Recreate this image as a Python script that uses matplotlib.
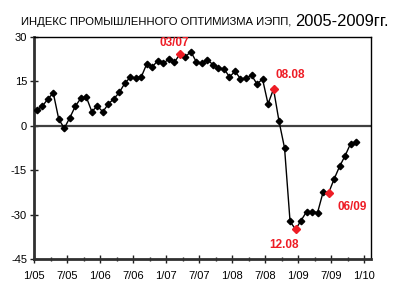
import numpy as np
import matplotlib
matplotlib.use("Agg")
import matplotlib.pyplot as plt
from matplotlib.ticker import MultipleLocator

plt.rcParams['axes.unicode_minus'] = False

# monthly index values, 1/05 .. 11/09
values = [5.3, 6.6, 9.0, 11.1, 2.2, -0.8, 2.7, 6.6, 9.3, 9.7, 4.8, 6.7,
          4.7, 7.4, 9.1, 11.3, 14.4, 16.4, 16.2, 16.6, 21.0, 20.0, 22.0, 21.1,
          22.6, 21.5, 24.2, 23.4, 25.0, 21.5, 21.1, 22.2, 20.7, 19.4, 19.3, 16.5,
          18.4, 15.9, 16.0, 17.1, 14.1, 15.8, 7.4, 12.4, 1.5, -7.5, -32.3, -35.0,
          -32.0, -29.0, -29.0, -29.3, -22.4, -22.7, -18.0, -13.7, -10.1, -6.0, -5.6]
tick_labels = ['1/05', '7/05', '1/06', '7/06', '1/07', '7/07', '1/08', '7/08', '1/09', '7/09', '1/10']
marked = {26: '03/07', 43: '08.08', 47: '12.08', 53: '06/09'}
label_offsets = {26: (-4, 8), 43: (12, 10), 47: (-8, -11), 53: (17, -10)}

red = '#ee1c25'
fnt = 'Liberation Sans'

fig = plt.figure(figsize=(4.0, 3.06), dpi=100)
ax = fig.add_axes([0.085, 0.1536, 0.8425, 0.7255])

x = np.arange(len(values)) + 0.5
ax.plot(x, values, color='black', lw=1.0, marker='D', ms=3.3, mfc='black', mec='black', zorder=3)
for i, txt in marked.items():
    ax.plot(x[i], values[i], marker='D', ms=4.5, color=red, zorder=4, ls='none')
    dx, dy = label_offsets[i]
    ax.annotate(txt, (x[i], values[i]), xytext=(dx, dy), textcoords='offset points',
                ha='center', va='center', color=red, fontsize=8.5, fontweight='bold',
                family=fnt)

ax.axhline(0, color='#404040', lw=1.6, zorder=2)

ax.set_xlim(0, 61.2)
ax.set_ylim(-45, 30)
ax.set_yticks([-45, -30, -15, 0, 15, 30])
ax.set_yticklabels(['-45', '-30', '-15', '0', '15', '30'], family=fnt, fontsize=8)
ax.set_xticks(np.arange(0, 61, 6))
ax.set_xticklabels(tick_labels, family=fnt, fontsize=8)
ax.xaxis.set_minor_locator(MultipleLocator(3))
ax.tick_params(axis='both', which='major', direction='inout', length=6, width=1.0, color='#202020')
ax.tick_params(axis='x', which='minor', direction='inout', length=3, width=1.0, color='#202020')
ax.tick_params(axis='x', pad=6)
ax.tick_params(axis='y', pad=2)

for side in ['left', 'bottom']:
    ax.spines[side].set_linewidth(2.0)
    ax.spines[side].set_color('#303030')
for side in ['top', 'right']:
    ax.spines[side].set_linewidth(1.0)
    ax.spines[side].set_color('black')

# title in two parts, each shrunk to the width it takes in the original
t1 = fig.text(291 / 400, 1 - 25 / 306, 'ИНДЕКС ПРОМЫШЛЕННОГО ОПТИМИЗМА ИЭПП,',
              ha='right', va='baseline', fontsize=9.5, family=fnt)
t2 = fig.text(389 / 400, 1 - 26.5 / 306, '2005-2009гг.',
              ha='right', va='baseline', fontsize=13, family=fnt)
r = fig.canvas.get_renderer()
for t, w in [(t1, 274), (t2, 94)]:
    cur = t.get_window_extent(r).width
    t.set_fontsize(t.get_fontsize() * w / cur)

fig.savefig('out.png', dpi=100)
